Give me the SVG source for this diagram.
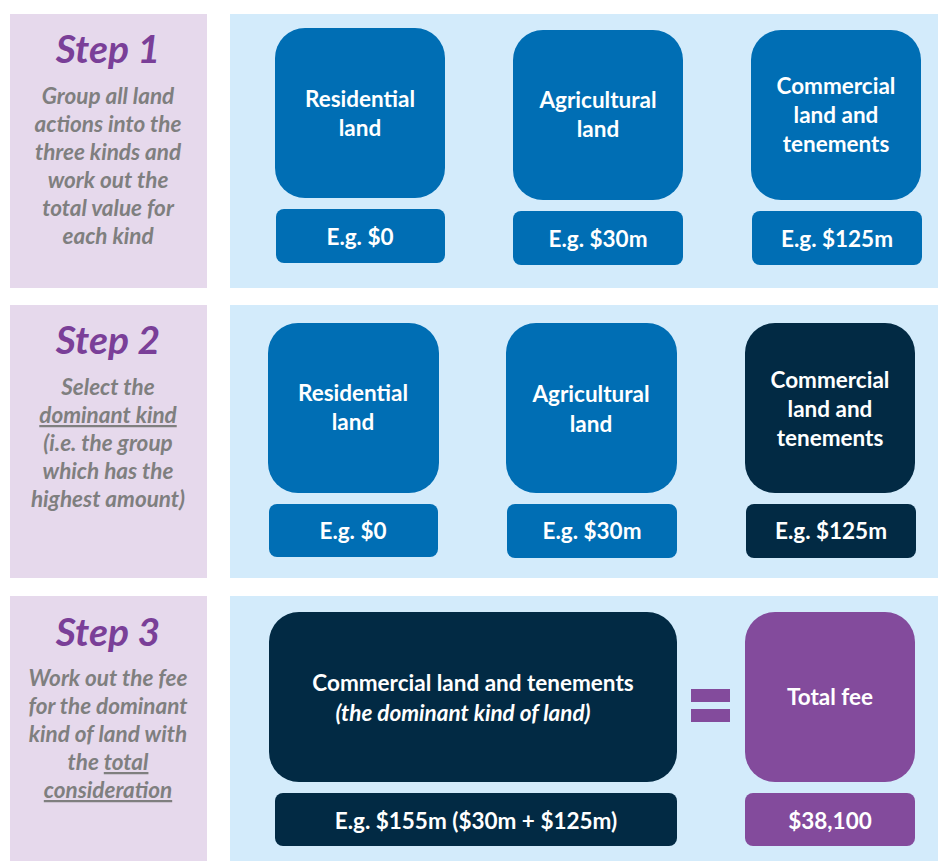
<svg xmlns="http://www.w3.org/2000/svg" width="938" height="861" viewBox="0 0 938 861">
<style>
.side{fill:#e6d9ec}
.panel{fill:#d3ebfb}
.blue{fill:#006eb4}
.navy{fill:#022a44}
.purple{fill:#834b9c}
.step{font-family:Lato,"Open Sans",sans-serif;font-weight:bold;font-style:italic;font-size:39px;fill:#7a3f98;text-anchor:middle}
.desc{font-family:Lato,"Open Sans",sans-serif;font-weight:bold;font-style:italic;font-size:22.5px;fill:#7f7f7f;text-anchor:middle}
.lbl{font-family:Lato,"Open Sans",sans-serif;font-weight:bold;font-size:22.5px;fill:#ffffff;text-anchor:middle}
.it{font-style:italic}
.u{text-decoration:underline}
</style>
<rect width="938" height="861" fill="#ffffff"/>
<!-- Step 1 -->
<g id="step1">
<rect class="side" x="10" y="14" width="197" height="274"/>
<text class="step" x="108" y="63">Step 1</text>
<text class="desc" x="108" y="104">Group all land</text>
<text class="desc" x="108" y="132">actions into the</text>
<text class="desc" x="108" y="160">three kinds and</text>
<text class="desc" x="108" y="188">work out the</text>
<text class="desc" x="108" y="216">total value for</text>
<text class="desc" x="108" y="244">each kind</text>
</g>
<rect class="panel" x="230" y="14" width="708" height="274"/>
<g id="s1-residential">
<rect class="blue" x="275" y="28" width="170" height="170" rx="30"/>
<text class="lbl" x="360" y="107">Residential</text>
<text class="lbl" x="360" y="136">land</text>
</g>
<g id="s1-residential-val">
<rect class="blue" x="276" y="209" width="169" height="54" rx="8"/>
<text class="lbl" x="360" y="245">E.g. $0</text>
</g>
<g id="s1-agricultural">
<rect class="blue" x="513" y="30" width="170" height="170" rx="30"/>
<text class="lbl" x="598" y="108">Agricultural</text>
<text class="lbl" x="598" y="137">land</text>
</g>
<g id="s1-agricultural-val">
<rect class="blue" x="513" y="211" width="170" height="54" rx="8"/>
<text class="lbl" x="598" y="247">E.g. $30m</text>
</g>
<g id="s1-commercial">
<rect class="blue" x="751" y="30" width="170" height="170" rx="30"/>
<text class="lbl" x="836" y="94">Commercial</text>
<text class="lbl" x="836" y="123">land and</text>
<text class="lbl" x="836" y="152">tenements</text>
</g>
<g id="s1-commercial-val">
<rect class="blue" x="752" y="211" width="170" height="54" rx="8"/>
<text class="lbl" x="837" y="247">E.g. $125m</text>
</g>
<!-- Step 2 -->
<g id="step2">
<rect class="side" x="10" y="305" width="197" height="273"/>
<text class="step" x="108" y="354">Step 2</text>
<text class="desc" x="108" y="395">Select the</text>
<text class="desc u" x="108" y="423">dominant kind</text>
<text class="desc" x="108" y="451">(i.e. the group</text>
<text class="desc" x="108" y="479">which has the</text>
<text class="desc" x="108" y="507">highest amount)</text>
</g>
<rect class="panel" x="230" y="305" width="708" height="273"/>
<g id="s2-residential">
<rect class="blue" x="268" y="323" width="171" height="170" rx="30"/>
<text class="lbl" x="353" y="401">Residential</text>
<text class="lbl" x="353" y="430">land</text>
</g>
<g id="s2-residential-val">
<rect class="blue" x="269" y="504" width="169" height="53" rx="8"/>
<text class="lbl" x="353" y="539">E.g. $0</text>
</g>
<g id="s2-agricultural">
<rect class="blue" x="506" y="323" width="171" height="170" rx="30"/>
<text class="lbl" x="591" y="402">Agricultural</text>
<text class="lbl" x="591" y="432">land</text>
</g>
<g id="s2-agricultural-val">
<rect class="blue" x="507" y="504" width="170" height="54" rx="8"/>
<text class="lbl" x="592" y="539">E.g. $30m</text>
</g>
<g id="s2-commercial">
<rect class="navy" x="745" y="323" width="170" height="170" rx="30"/>
<text class="lbl" x="830" y="388">Commercial</text>
<text class="lbl" x="830" y="417">land and</text>
<text class="lbl" x="830" y="446">tenements</text>
</g>
<g id="s2-commercial-val">
<rect class="navy" x="746" y="504" width="170" height="54" rx="8"/>
<text class="lbl" x="831" y="539">E.g. $125m</text>
</g>
<!-- Step 3 -->
<g id="step3">
<rect class="side" x="10" y="596" width="197" height="265"/>
<text class="step" x="108" y="646">Step 3</text>
<text class="desc" x="108" y="686">Work out the fee</text>
<text class="desc" x="108" y="714">for the dominant</text>
<text class="desc" x="108" y="742">kind of land with</text>
<text class="desc" x="108" y="770">the <tspan class="u">total</tspan></text>
<text class="desc u" x="108" y="798">consideration</text>
</g>
<rect class="panel" x="230" y="596" width="708" height="265"/>
<g id="s3-commercial">
<rect class="navy" x="269" y="612" width="408" height="170" rx="30"/>
<text class="lbl" x="473" y="691">Commercial land and tenements</text>
<text class="lbl it" x="463" y="721">(the dominant kind of land)</text>
</g>
<g id="s3-commercial-val">
<rect class="navy" x="275" y="793" width="402" height="53" rx="8"/>
<text class="lbl" x="476" y="829">E.g. $155m ($30m + $125m)</text>
</g>
<g id="s3-equals">
<rect class="purple" x="691" y="689" width="39" height="13"/>
<rect class="purple" x="691" y="709" width="39" height="13"/>
</g>
<g id="s3-total">
<rect class="purple" x="745" y="612" width="170" height="170" rx="30"/>
<text class="lbl" x="830" y="705">Total fee</text>
</g>
<g id="s3-total-val">
<rect class="purple" x="745" y="793" width="170" height="53" rx="8"/>
<text class="lbl" x="830" y="829">$38,100</text>
</g>
<g id="connectors"/>
</svg>
